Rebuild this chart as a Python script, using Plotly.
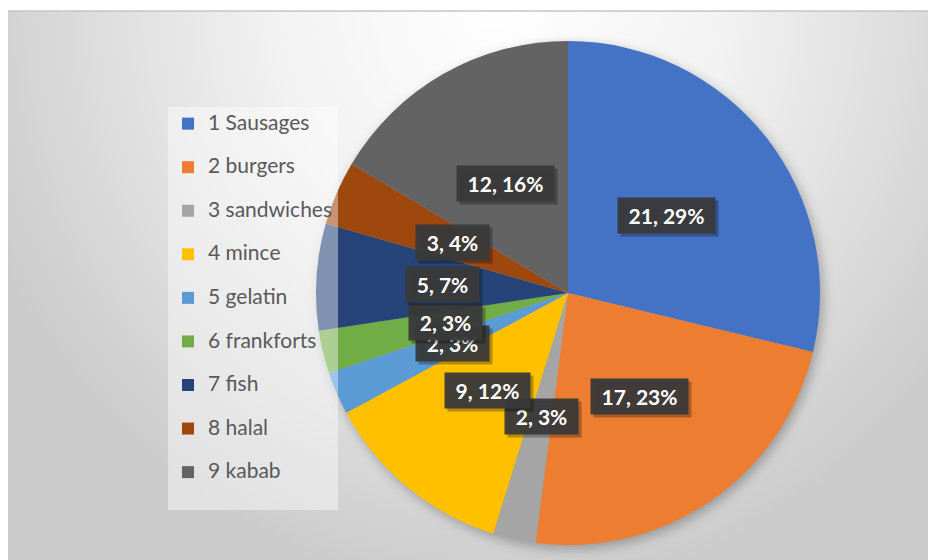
import base64, math
import plotly.graph_objects as go

# ---- data ----
categories = ["1 Sausages", "2 burgers", "3 sandwiches", "4 mince", "5 gelatin",
              "6 frankforts", "7 fish", "8 halal", "9 kabab"]
values = [21, 17, 2, 9, 2, 2, 5, 3, 12]
colors = ["#4472C4", "#ED7D31", "#A5A5A5", "#FFC000", "#5B9BD5",
          "#70AD47", "#264478", "#9E480E", "#636363"]

W, H = 928, 560
CX, CY, R = 568, 293, 252  # pie centre / radius in px (style)

dom_x = [(CX - R) / W, (CX + R) / W]
dom_y = [(H - CY - R) / H, (H - CY + R) / H]

# legend labels: use a hidden second line to obtain Excel-like item spacing
leg_labels = [f"<span style='font-size:21px'>{c}</span><br> " for c in categories]

fig = go.Figure(go.Pie(
    labels=leg_labels,
    values=values,
    sort=False,
    direction="clockwise",
    rotation=0,
    marker=dict(colors=colors, line=dict(width=0)),
    textinfo="none",
    hoverinfo="skip",
    domain=dict(x=dom_x, y=dom_y),
))

# approximate glyph advance widths (Lato Bold, 21px) to size the label boxes
FS = 21
adv = {"d": 0.58, ",": 0.24, " ": 0.193, "%": 0.86, "\u00a0": 0.193}


def text_width(s):
    return sum(FS * adv["d" if ch.isdigit() else ch] for ch in s)


total = sum(values)
annotations = []
cum = 0
for v in values:
    mid = (cum + v / 2) / total * 2 * math.pi
    cum += v
    px = CX + 0.5 * R * math.sin(mid)
    py = CY - 0.5 * R * math.cos(mid)
    pct = round(v / total * 100)
    txt = f"\u00a0{v}, {pct}%\u00a0"
    bw = round(text_width(txt) + 3)
    common = dict(x=px / W, y=1 - py / H, xref="paper", yref="paper",
                  showarrow=False, borderpad=5, width=bw, height=25,
                  xanchor="center", yanchor="middle")
    # soft drop shadow box
    annotations.append(dict(**common, text="\u00a0", bgcolor="rgba(0,0,0,0.28)",
                            font=dict(family="Lato", size=FS, color="rgba(0,0,0,0)"),
                            xshift=3, yshift=-3))
    annotations.append(dict(**common, text=txt, bgcolor="rgba(58,58,58,0.95)",
                            font=dict(family="Lato", size=FS, color="#ffffff", weight="bold")))

svg = f'''<svg xmlns="http://www.w3.org/2000/svg" width="{W}" height="{H}" viewBox="0 0 {W} {H}">
<defs>
<radialGradient id="g" gradientUnits="userSpaceOnUse" cx="500" cy="0" r="560"
 gradientTransform="translate(500 0) scale(1 1.07) translate(-500 0)">
<stop offset="0" stop-color="#ffffff"/>
<stop offset="0.4" stop-color="#f2f2f2"/>
<stop offset="1" stop-color="#cbcbcb"/>
</radialGradient>
<filter id="b" x="-20%" y="-20%" width="140%" height="140%"><feGaussianBlur stdDeviation="6"/></filter>
</defs>
<rect x="0" y="0" width="{W}" height="{H}" fill="#ffffff"/>
<rect x="8" y="11" width="{W-8}" height="{H-11}" fill="url(#g)"/>
<line x1="8" y1="11" x2="{W}" y2="11" stroke="#c4c4c4" stroke-width="1.5"/>
<circle cx="{CX+3}" cy="{CY+4}" r="{R}" fill="#000" fill-opacity="0.28" filter="url(#b)"/>
</svg>'''
src = "data:image/svg+xml;base64," + base64.b64encode(svg.encode()).decode()

fig.update_layout(
    width=W, height=H,
    margin=dict(l=0, r=0, t=0, b=0),
    paper_bgcolor="#ffffff",
    showlegend=True,
    legend=dict(
        x=168 / W, y=1 - 107 / H, xanchor="left", yanchor="top",
        bgcolor="rgba(255,255,255,0.42)",
        font=dict(family="Lato", size=15.6, color="#595959"),
        valign="top",
        traceorder="normal",
    ),
    images=[dict(source=src, xref="paper", yref="paper", x=0, y=1,
                 sizex=1, sizey=1, sizing="stretch", layer="below",
                 xanchor="left", yanchor="top")],
    annotations=annotations,
    hovermode=False,
)

fig.write_html("out.html")
